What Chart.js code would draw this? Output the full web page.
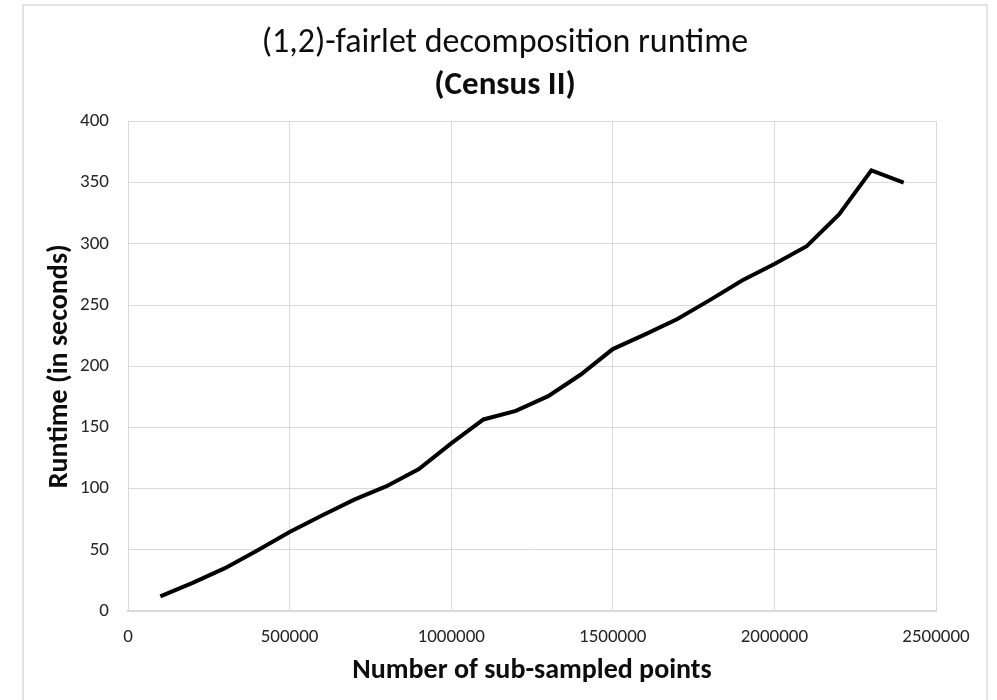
<!DOCTYPE html>
<html>
<head>
<meta charset="utf-8">
<script src="https://cdn.jsdelivr.net/npm/chart.js@4"></script>
<style>
  html, body { margin: 0; padding: 0; background: #fff; }
  #wrap { position: relative; width: 997px; height: 700px; }
  #frame {
    position: absolute; left: 22px; top: 4px; width: 962px; height: 700px;
    border-left: 2px solid #e3e3e3; border-top: 2px solid #e3e3e3; border-right: 2px solid #e3e3e3;
    pointer-events: none;
  }
</style>
</head>
<body>
<div id="wrap">
  <canvas id="runtimeChart" width="997" height="700"></canvas>
  <div id="frame"></div>
</div>
<script>
// Census II fairlet decomposition runtime

// sub-sampled sizes and measured runtimes (seconds)
const points = [100000, 200000, 300000, 400000, 500000, 600000, 700000, 800000,
  900000, 1000000, 1100000, 1200000, 1300000, 1400000, 1500000, 1600000,
  1700000, 1800000, 1900000, 2000000, 2100000, 2200000, 2300000, 2400000];
const runtimes = [12, 23, 35, 49.5, 64.5, 78, 91, 102, 116, 137, 156.5, 163.5,
  175.5, 193, 214, 226, 238.5, 254, 270, 283.5, 298, 324, 360, 350];

const xTicks = [0, 500000, 1000000, 1500000, 2000000, 2500000];
const yTicks = [0, 50, 100, 150, 200, 250, 300, 350, 400];

const fontFamily = '"Liberation Sans Narrow", Carlito, "Noto Sans", sans-serif';
Chart.defaults.font.family = fontFamily;
Chart.defaults.color = '#262626';

const ctx = document.getElementById('runtimeChart').getContext('2d');

new Chart(ctx, {
    type: 'line',
    data: {
        datasets: [{
            label: 'Runtime',
            data: points.map((p, i) => ({ x: p, y: runtimes[i] })),
            borderColor: '#000',
            borderWidth: 4,
            pointRadius: 0,
            tension: 0,
            fill: false,
        }],
    },
    options: {
        responsive: false,
        animation: false,
        layout: { padding: { top: 5, left: 24, right: 11, bottom: 8 } },
        plugins: {
            legend: { display: false },
            tooltip: { enabled: false },
            title: {
                display: true,
                text: '(1,2)-fairlet decomposition runtime',
                font: { size: 34, weight: 'normal' },
                color: '#0d0d0d',
                padding: { top: 18, bottom: 2 },
            },
            subtitle: {
                display: true,
                text: '(Census II)',
                font: { size: 33, weight: 'bold' },
                color: '#0d0d0d',
                padding: { top: 0, bottom: 16 },
            },
        },
        scales: {
            x: {
                type: 'linear',
                min: 0,
                max: 2500000,
                afterBuildTicks: axis => { axis.ticks = xTicks.map(v => ({ value: v })); },
                afterFit: axis => { axis.height = 81; },
                ticks: { font: { size: 19 }, padding: 15, maxRotation: 0, callback: v => String(v) },
                grid: { color: '#d9d9d9', lineWidth: 1, drawTicks: false },
                border: { color: '#d9d9d9', width: 2 },
                title: {
                    display: true,
                    text: 'Number of sub-sampled points',
                    font: { size: 28, weight: 'bold' },
                    color: '#0d0d0d',
                    padding: { top: 0, bottom: 4 },
                },
            },
            y: {
                min: 0,
                max: 400,
                afterBuildTicks: axis => { axis.ticks = yTicks.map(v => ({ value: v })); },
                afterFit: axis => { axis.width = 104; },
                ticks: { font: { size: 19 }, padding: 19 },
                grid: { color: '#d9d9d9', lineWidth: 1, drawTicks: false },
                border: { color: '#d9d9d9', width: 1 },
                title: {
                    display: true,
                    text: 'Runtime (in seconds)',
                    font: { size: 28, weight: 'bold' },
                    color: '#0d0d0d',
                    padding: { top: 19, bottom: 0 },
                },
            },
            // empty right-hand spacer so the plot stops where the reference does
            spacer: {
                type: 'linear',
                position: 'right',
                display: true,
                afterFit: axis => { axis.width = 50; },
                ticks: { display: false },
                grid: { display: false, drawTicks: false },
                border: { display: false },
            },
        },
    },
});
</script>
</body>
</html>
